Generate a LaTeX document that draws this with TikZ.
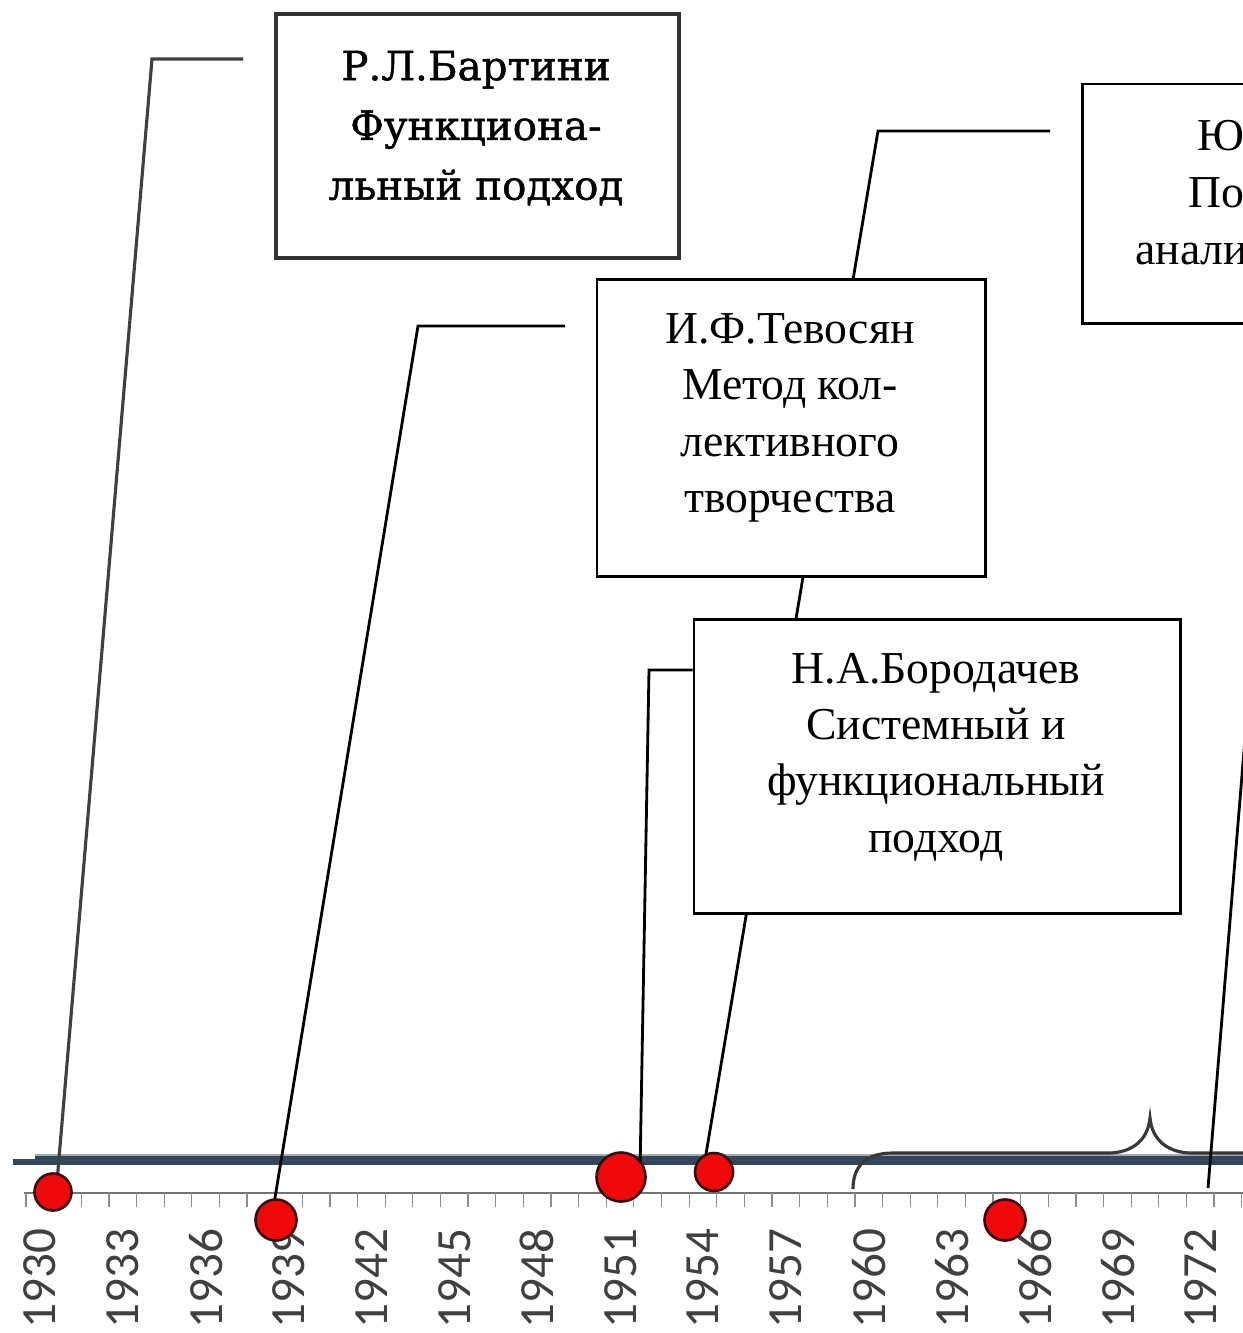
\documentclass[tikz,border=0pt]{standalone}
\usepackage{fontspec}
\setmainfont{Liberation Serif}
\newfontfamily\slabfont[FakeBold=1.2]{DejaVu Serif}
\newfontfamily\yearfont{Carlito}
\definecolor{axisblue}{HTML}{33465B}
\definecolor{dotred}{HTML}{EE0A0A}
\definecolor{dotedge}{HTML}{3A0A0A}
\begin{document}
\begin{tikzpicture}[x=0.02cm,y=-0.02cm,
  box/.style={draw=black, line width=1.7pt, fill=white, inner sep=0pt, rectangle},
  txt/.style={align=center, inner sep=0pt, font=\fontsize{26}{32}\selectfont},
  conn/.style={line width=1.6pt, black},
  dotnode/.style={circle, fill=dotred, draw=dotedge, line width=1.5pt, inner sep=0pt},
  yr/.style={rotate=90, anchor=east, inner sep=0pt, text=black!75, font=\yearfont\fontsize{28}{28}\selectfont}]
\useasboundingbox (0,0) rectangle (1243,1333);
\clip (0,0) rectangle (1243,1333);

% axis
\draw[line width=3pt, axisblue] (13,1162) -- (40,1162);
\draw[line width=5.4pt, axisblue] (35,1160) -- (1243,1160);
\draw[line width=0.6pt, axisblue!45] (35,1155) -- (1243,1155);
\draw[line width=0.7pt, black!55] (24,1193) -- (1243,1193);
\foreach \k in {0,...,44} {
  \draw[line width=0.7pt, black!45] ({26+27.63*\k},1193) -- ({26+27.63*\k},1207);
}
% year labels
\foreach \yv [count=\i from 0] in {1930,1933,1936,1939,1942,1945,1948,1951,1954,1957,1960,1963,1966,1969,1972} {
  \node[yr] (y\yv) at ({40+27.63*3*\i},1228) {\yv};
}

% brace
\draw[line width=1.8pt, black!78] (853,1189) .. controls (853,1166) and (866,1153) .. (893,1153)
  -- (1108,1153) .. controls (1132,1153) and (1148,1140) .. (1150,1118)
  .. controls (1152,1140) and (1168,1153) .. (1192,1153) -- (1243,1153);

% connector anchor coordinates
\coordinate (b30) at (57,1182);
\coordinate (k30) at (152,59);
\coordinate (e30) at (243,59);
\coordinate (b39) at (273,1210);
\coordinate (k39) at (418,326);
\coordinate (e39) at (565,326);
\coordinate (b51) at (640,1172);
\coordinate (k51) at (649,670);
\coordinate (b54) at (704,1166);
\coordinate (k54) at (878,131);
\coordinate (e54) at (1050,131);
\coordinate (b72) at (1208,1188);
\coordinate (e72) at (1249,690);

% boxes
\node[box, minimum width=403*0.02cm, minimum height=244*0.02cm, draw=black!80, line width=1.9pt] (bart) at (477.5,136) {};
\node[box, minimum width=300*0.02cm, minimum height=239*0.02cm] (yubox) at (1232,203.5) {};

\draw[conn, black!75, line width=1.8pt] (b30) -- (k30) -- (e30);
\draw[conn] (b39) -- (k39) -- (e39);
\draw[conn] (b54) -- (k54) -- (e54);
\draw[conn] (b72) -- (e72);

\node[box, minimum width=388*0.02cm, minimum height=297*0.02cm] (tev) at (791,427.5) {};
\node[box, minimum width=486*0.02cm, minimum height=294*0.02cm] (bor) at (937,766) {};
\draw[conn] (b51) -- (k51) -- (k51 -| bor.west);

% texts
\node[align=center, inner sep=0pt, font=\slabfont\fontsize{23}{34}\selectfont] (tbart) at (476,128) {Р.Л.Бартини\\Функциона-\\льный подход};
\node[txt] (ttev) at (790,418) {И.Ф.Тевосян\\Метод кол-\\лективного\\творчества};
\node[txt] (tbor) at (936,757) {Н.А.Бородачев\\Системный и\\функциональный\\подход};
\node[anchor=base west, inner sep=0pt, font=\fontsize{26}{32}\selectfont] (tyu1) at (1197,150) {Ю};
\node[anchor=base west, inner sep=0pt, font=\fontsize{26}{32}\selectfont] (tyu2) at (1188,207) {По};
\node[anchor=base west, inner sep=0pt, font=\fontsize{26}{32}\selectfont] (tyu3) at (1135,264) {анали};

% dots
\node[dotnode, minimum size=37*0.02cm] (d30) at (53,1192) {};
\node[dotnode, minimum size=41*0.02cm] (d39) at (276,1220) {};
\node[dotnode, minimum size=49*0.02cm] (d51) at (621,1177) {};
\node[dotnode, minimum size=38*0.02cm] (d54) at (714,1172) {};
\node[dotnode, minimum size=41*0.02cm] (d65) at (1005,1220) {};
\end{tikzpicture}
\end{document}
